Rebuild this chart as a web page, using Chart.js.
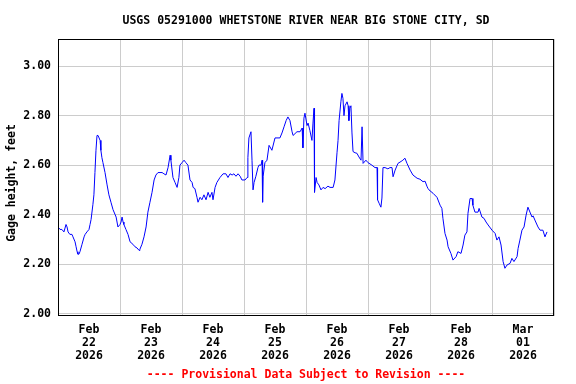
<!DOCTYPE html>
<html>
<head>
<meta charset="utf-8">
<script src="https://cdn.jsdelivr.net/npm/chart.js@4"></script>
<style>
  html, body { margin: 0; padding: 0; background: #fff; }
  #wrap { width: 576px; height: 384px; }
</style>
</head>
<body>
<div id="wrap"><canvas id="gage"></canvas></div>
<script>
// hours since Feb 22 2026 00:00
const hours = [0,0.8,1.5,2.3,3.1,3.5,3.9,4.6,5.4,5.8,6.6,7.0,7.4,7.7,8.1,8.5,9.3,10.1,10.5,11.2,
  12.0,12.4,12.8,13.5,13.9,14.3,14.7,15.1,15.5,15.9,16.3,16.6,17.0,17.4,18.2,19.0,19.7,20.5,21.3,22.5,
  23.2,24.0,24.4,24.8,25.2,25.5,26.3,27.1,27.9,29.0,29.8,30.6,31.4,31.7,32.5,33.3,34.1,34.8,35.6,36.4,
  37.2,37.9,38.7,40.3,41.0,41.8,42.6,43.4,43.7,44.5,45.3,46.1,46.8,47.2,48.0,48.8,49.5,50.3,51.1,51.9,
  52.3,53.0,53.8,54.2,55.0,55.7,56.5,57.3,58.1,58.8,59.6,60.0,60.8,61.5,62.7,63.9,65.0,65.8,66.6,67.4,
  68.1,68.9,69.7,70.5,71.2,72.4,73.2,73.5,73.9,74.7,75.1,75.5,75.9,76.6,77.4,77.8,78.6,79.0,79.2,79.4,
  80.1,80.9,81.7,82.8,84.0,85.9,86.7,87.5,88.3,89.0,89.8,90.6,91.0,92.5,93.7,94.5,94.8,95.2,95.6,96.4,
  96.8,97.5,98.3,98.7,99.1,99.3,99.9,100.3,101.0,101.8,102.6,103.4,104.5,105.3,106.5,107.2,108.0,108.4,108.8,109.5,
  109.9,110.3,110.7,111.1,111.9,112.3,112.6,113.0,113.4,113.8,114.2,115.0,115.7,116.5,117.3,117.7,118.1,119.2,120.0,121.5,
  122.7,123.5,123.7,124.3,125.0,125.4,125.8,126.6,127.7,128.5,129.3,129.7,130.5,131.6,132.8,133.5,134.3,135.1,136.3,137.4,
  139.0,140.1,141.3,142.1,142.8,143.2,143.6,145.2,146.7,147.9,148.6,149.0,149.8,150.6,151.0,152.1,152.9,154.1,154.8,156.0,
  156.8,157.5,158.3,158.7,159.5,160.3,160.6,161.4,162.6,163.0,164.1,164.9,165.7,166.5,168.0,169.2,169.9,170.7,171.5,172.3,
  173.0,173.8,175.0,175.7,176.5,177.7,178.1,178.8,179.6,180.4,181.2,181.9,182.7,183.5,183.9,184.6,185.8,186.6,187.7,188.5,
  189.3];

// gage height, feet
const gage = [2.35,2.34,2.34,2.33,2.36,2.35,2.33,2.32,2.32,2.31,2.29,2.27,2.25,2.24,2.24,2.25,2.28,2.31,2.32,2.33,
  2.34,2.36,2.38,2.44,2.48,2.57,2.66,2.72,2.72,2.71,2.70,2.66,2.63,2.61,2.57,2.52,2.48,2.45,2.42,2.39,
  2.35,2.36,2.37,2.39,2.37,2.36,2.34,2.32,2.29,2.28,2.27,2.265,2.255,2.26,2.28,2.31,2.35,2.41,2.45,2.49,
  2.54,2.56,2.57,2.57,2.565,2.56,2.59,2.64,2.62,2.55,2.53,2.51,2.55,2.60,2.61,2.62,2.61,2.60,2.54,2.53,
  2.51,2.505,2.47,2.45,2.47,2.46,2.48,2.46,2.49,2.47,2.49,2.46,2.51,2.53,2.55,2.565,2.565,2.55,2.565,2.56,
  2.565,2.555,2.565,2.555,2.54,2.54,2.55,2.63,2.71,2.735,2.62,2.50,2.53,2.555,2.59,2.60,2.60,2.62,2.45,2.555,
  2.61,2.62,2.68,2.66,2.71,2.71,2.73,2.755,2.78,2.795,2.78,2.735,2.72,2.735,2.735,2.75,2.67,2.79,2.81,2.76,
  2.77,2.74,2.70,2.77,2.83,2.49,2.55,2.53,2.52,2.50,2.51,2.505,2.515,2.51,2.51,2.54,2.65,2.70,2.78,2.856,
  2.89,2.87,2.80,2.84,2.856,2.84,2.78,2.83,2.84,2.73,2.655,2.65,2.648,2.633,2.62,2.755,2.607,2.62,2.61,2.60,
  2.59,2.59,2.46,2.446,2.43,2.467,2.59,2.59,2.585,2.59,2.59,2.553,2.58,2.607,2.615,2.62,2.628,2.607,2.58,2.56,
  2.547,2.543,2.533,2.535,2.515,2.506,2.50,2.486,2.47,2.438,2.425,2.385,2.324,2.297,2.27,2.243,2.216,2.23,2.25,2.243,
  2.277,2.317,2.33,2.405,2.465,2.465,2.438,2.41,2.41,2.425,2.39,2.385,2.37,2.358,2.337,2.324,2.297,2.31,2.277,2.21,
  2.183,2.196,2.203,2.223,2.21,2.23,2.263,2.297,2.337,2.35,2.398,2.43,2.41,2.39,2.395,2.378,2.35,2.337,2.337,2.31,
  2.33];

const dayLabels = [["Feb","22","2026"],["Feb","23","2026"],["Feb","24","2026"],["Feb","25","2026"],
  ["Feb","26","2026"],["Feb","27","2026"],["Feb","28","2026"],["Mar","01","2026"]];
const yTicks = [2.0, 2.2, 2.4, 2.6, 2.8, 3.0];

const FONT = "'DejaVu Sans Mono', monospace";
const TITLE = "USGS 05291000 WHETSTONE RIVER NEAR BIG STONE CITY, SD";
const FOOTER = "---- Provisional Data Subject to Revision ----";
const YTITLE = "Gage height, feet";

// black frame around the plot, titles centred over the plot
const frame = {
  id: "frame",
  afterDraw(chart) {
    const a = chart.chartArea, c = chart.ctx;
    const mid = (a.left + a.right) / 2;
    c.save();
    c.strokeStyle = "#000";
    c.lineWidth = 1;
    c.strokeRect(Math.round(a.left) + 0.5, Math.round(a.top) + 0.5,
      Math.round(a.right - a.left) - 1, Math.round(a.bottom - a.top) - 1);
    c.font = "bold 11.5px " + FONT;
    c.textAlign = "center";
    c.textBaseline = "middle";
    c.fillStyle = "#000";
    c.fillText(TITLE, mid, 21);
    c.fillStyle = "#ff0000";
    c.fillText(FOOTER, mid, 375);
    c.fillStyle = "#000";
    c.translate(12, 183);
    c.rotate(-Math.PI / 2);
    c.fillText(YTITLE, 0, 0);
    c.restore();
  }
};

new Chart(document.getElementById("gage"), {
  type: "line",
  data: {
    datasets: [{
      data: hours.map((h, i) => ({ x: h, y: gage[i] })),
      borderColor: "#0000ff",
      borderWidth: 1,
      pointRadius: 0,
      tension: 0,
      fill: false
    }]
  },
  options: {
    responsive: true,
    maintainAspectRatio: false,
    animation: false,
    layout: { padding: { left: 0, right: 22, top: 39, bottom: 16.4 } },
    plugins: {
      legend: { display: false },
      tooltip: { enabled: false }
    },
    scales: {
      x: {
        type: "linear",
        min: 0,
        max: 192,
        afterBuildTicks: s => {
          s.ticks = [];
          for (let h = 0; h <= 192; h += 12) s.ticks.push({ value: h });
        },
        afterFit: s => { s.height = 51.6; },
        ticks: {
          autoSkip: false,
          maxRotation: 0,
          padding: 8,
          color: "#000",
          font: { family: FONT, size: 11.5, weight: "bold", lineHeight: 1.13 },
          callback: v => (v % 24 === 12 ? dayLabels[(v - 12) / 24] : "")
        },
        grid: {
          drawTicks: false,
          color: ctx => (ctx.tick && ctx.tick.value % 24 === 0 ? "#cccccc" : "rgba(0,0,0,0)"),
          lineWidth: 1
        },
        border: { display: false }
      },
      y: {
        min: 1.99,
        max: 3.11,
        afterBuildTicks: s => { s.ticks = yTicks.map(v => ({ value: v })); },
        afterFit: s => { s.width = 58; },
        ticks: {
          padding: 7,
          color: "#000",
          font: { family: FONT, size: 11.5, weight: "bold" },
          callback: v => v.toFixed(2)
        },
        grid: { drawTicks: false, color: "#cccccc", lineWidth: 1 },
        border: { display: false }
      }
    }
  },
  plugins: [frame]
});
</script>
</body>
</html>
